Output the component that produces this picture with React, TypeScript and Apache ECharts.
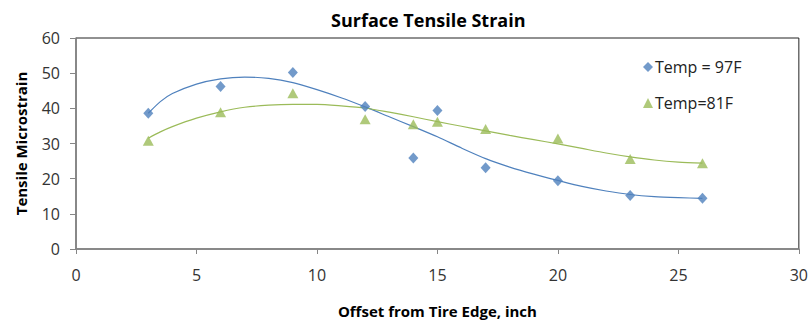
import React, { useEffect, useRef } from "react";
import * as echarts from "echarts";

const offsets = [3, 6, 9, 12, 14, 15, 17, 20, 23, 26];
const temp97 = [38.6, 46.2, 50.2, 40.5, 25.9, 39.4, 23.1, 19.4, 15.2, 14.4];
const temp81 = [30.8, 38.9, 44.3, 36.9, 35.5, 36.2, 34.1, 31.4, 25.6, 24.4];

// trendline values
const trendX = [3, 3.5, 4, 5, 6, 7, 8, 9, 10, 11, 12, 13, 14, 15, 16, 17, 18, 19, 20, 21, 22, 23, 24, 25, 26];
const trend97 = [38.6, 41.9, 44.2, 46.9, 48.4, 48.9, 48.5, 47.3, 45.3, 43.0, 40.4, 37.6, 34.8, 31.9, 28.7, 25.7, 23.3, 21.3, 19.5, 17.8, 16.5, 15.5, 14.9, 14.6, 14.4];
const trend81 = [31.5, 33.3, 34.8, 37.2, 39.0, 40.3, 40.9, 41.1, 41.1, 40.7, 40.1, 38.9, 37.6, 36.2, 34.9, 33.6, 32.3, 31.1, 29.9, 28.6, 27.3, 26.2, 25.3, 24.7, 24.4];

const xTicks = { min: 0, max: 30, interval: 5 };
const yTicks = { min: 0, max: 60, interval: 10 };

const BLUE = "#4F81BD";
const GREEN = "#9BBB59";
const FONT = "Open Sans";

export default function App() {
  const ref = useRef<HTMLDivElement>(null);
  useEffect(() => {
    if (!ref.current) return;
    const chart = echarts.init(ref.current, undefined, { renderer: "svg" });
    const pair = (xs: number[], ys: number[]) => xs.map((x, i) => [x, ys[i]]);
    chart.setOption({
      animation: false,
      backgroundColor: "#fff",
      textStyle: { fontFamily: FONT },
      title: {
        text: "Surface Tensile Strain",
        left: 326,
        top: 6,
        textStyle: { fontFamily: FONT, fontSize: 18, fontWeight: "bold", color: "#000" },
      },
      grid: {
        left: 76,
        right: 12,
        top: 38,
        bottom: 74,
        show: true,
        borderColor: "#222",
        borderWidth: 1,
        backgroundColor: "#fff",
      },
      legend: {
        data: ["Temp = 97F", "Temp=81F"],
        orient: "vertical",
        left: 638,
        top: 51,
        itemWidth: 10,
        itemHeight: 10,
        itemGap: 14,
        textStyle: { fontFamily: FONT, fontSize: 16, color: "#222", lineHeight: 22, padding: [0, 0, 0, -3] },
      },
      xAxis: {
        type: "value",
        ...xTicks,
        name: "Offset from Tire Edge, inch",
        nameLocation: "middle",
        nameGap: 54,
        nameTextStyle: { fontFamily: FONT, fontSize: 15, fontWeight: "bold", color: "#000" },
        axisLine: { show: true, onZero: false, lineStyle: { color: "#868686", width: 1.5 } },
        axisTick: { show: true, length: 5, lineStyle: { color: "#868686" } },
        axisLabel: { fontFamily: FONT, fontSize: 16, color: "#333", margin: 18 },
        splitLine: { show: false },
      },
      yAxis: {
        type: "value",
        ...yTicks,
        name: "Tensile Microstrain",
        nameLocation: "middle",
        nameGap: 48,
        nameTextStyle: { fontFamily: FONT, fontSize: 15, fontWeight: "bold", color: "#000" },
        axisLine: { show: true, onZero: false, lineStyle: { color: "#868686", width: 1.5 } },
        axisTick: { show: true, length: 6, lineStyle: { color: "#868686" } },
        axisLabel: { fontFamily: FONT, fontSize: 16, color: "#333", margin: 16 },
        splitLine: { show: false },
      },
      series: [
        {
          name: "trend97",
          type: "line",
          data: pair(trendX, trend97),
          smooth: 0.25,
          showSymbol: false,
          lineStyle: { color: BLUE, width: 1.2 },
          itemStyle: { color: BLUE },
          silent: true,
          z: 1,
        },
        {
          name: "trend81",
          type: "line",
          data: pair(trendX, trend81),
          smooth: 0.25,
          showSymbol: false,
          lineStyle: { color: GREEN, width: 1.2 },
          itemStyle: { color: GREEN },
          silent: true,
          z: 1,
        },
        {
          name: "Temp = 97F",
          type: "scatter",
          data: pair(offsets, temp97),
          symbol: "diamond",
          symbolSize: [10, 11],
          itemStyle: { color: BLUE },
          z: 3,
        },
        {
          name: "Temp=81F",
          type: "scatter",
          data: pair(offsets, temp81),
          symbol: "triangle",
          symbolSize: [11, 10],
          itemStyle: { color: GREEN },
          z: 3,
        },
      ],
    });
    return () => chart.dispose();
  }, []);
  return (
    <div
      ref={ref}
      style={{ position: "fixed", left: 0, top: 0, width: 811, height: 323 }}
    />
  );
}
